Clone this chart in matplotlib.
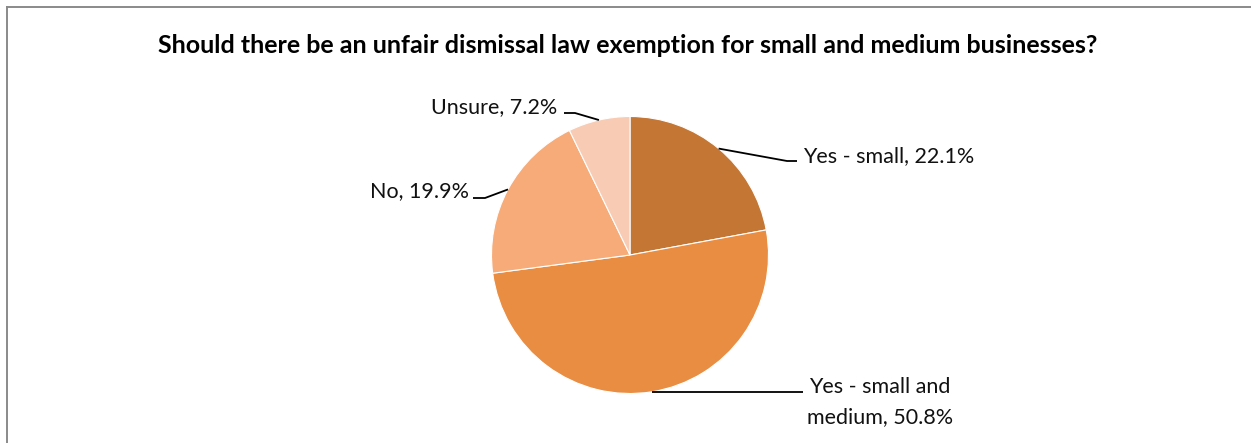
import matplotlib
matplotlib.use("Agg")
import matplotlib.pyplot as plt
import numpy as np

W, H, DPI = 1251, 443, 100

title = "Should there be an unfair dismissal law exemption for small and medium businesses?"
categories = ["Yes - small", "Yes - small and\nmedium", "No", "Unsure"]
shares = [22.1, 50.8, 19.9, 7.2]
colors = ["#C47634", "#E98D42", "#F6AB78", "#F8CBB4"]

# label placement in pixel space (x, baseline y from top), leader elbows and ends
label_pos = [(803, 162), (880, 393), (469, 197), (557, 113)]
elbows = [(787, 161), (None, 392), (485, 198), (575, 113)]
line_ends = [(797, 161), (803, 392), (473, 198), (564, 113)]
label_ha = ["left", "center", "right", "right"]
line_step = 30

plt.rcParams["font.family"] = ["Lato", "DejaVu Sans"]

fig = plt.figure(figsize=(W / DPI, H / DPI), dpi=DPI)
ax = fig.add_axes([0, 0, 1, 1])

cx, cy, r = 630, H - 255, 138.5
wedges, _ = ax.pie(shares, colors=colors, startangle=90, counterclock=False,
                   center=(cx, cy), radius=r, frame=True,
                   wedgeprops=dict(edgecolor="white", linewidth=0.8))
ax.set_xlim(0, W)
ax.set_ylim(0, H)
ax.set_aspect("equal")
ax.axis("off")

fs = 15.5
for w, cat, val, pos, elb, end, ha in zip(wedges, categories, shares, label_pos,
                                          elbows, line_ends, label_ha):
    mid = np.deg2rad((w.theta1 + w.theta2) / 2)
    sx, sy = cx + r * np.cos(mid), cy + r * np.sin(mid)
    ex, ey = end[0], H - end[1]
    if elb[0] is None:
        xs, ys = [sx, ex], [H - elb[1], ey]
    else:
        xs, ys = [sx, elb[0], ex], [sy, H - elb[1], ey]
    ax.plot(xs, ys, color="black", lw=1.3, solid_capstyle="butt")
    lines = f"{cat}, {val:.1f}%".split("\n")
    for i, line in enumerate(lines):
        ax.text(pos[0], H - pos[1] - i * line_step, line, ha=ha, va="baseline",
                fontsize=fs, color="#111111")

ax.text(628, H - 53, title, ha="center", va="baseline", fontsize=18,
        fontweight="bold", color="black")

# chart-area border (left and top edges)
ax.plot([7, 7], [0, H - 7], color="#8a8a8a", lw=1.4, clip_on=False)
ax.plot([7, W], [H - 7, H - 7], color="#8a8a8a", lw=1.4, clip_on=False)

fig.savefig("out.png", dpi=DPI, facecolor="white")
